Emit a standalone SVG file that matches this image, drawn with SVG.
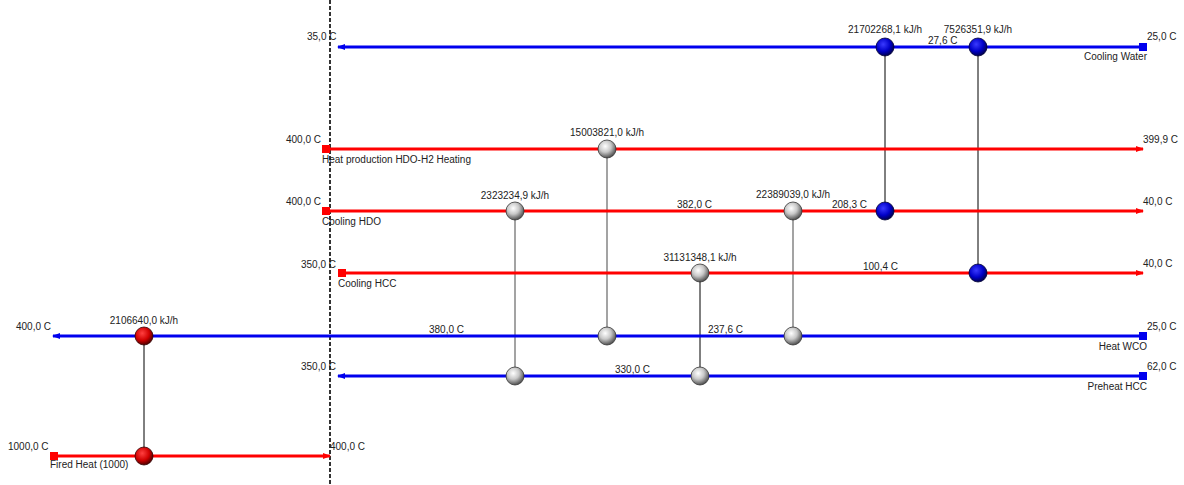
<svg xmlns="http://www.w3.org/2000/svg" width="1184" height="485" viewBox="0 0 1184 485">
<style>
text{font-family:"Liberation Sans",Arial,sans-serif;font-size:10px;fill:#222}
.r{text-anchor:end}
.m{text-anchor:middle}
.hot{stroke:#ff0000;stroke-width:3;fill:none}
.cold{stroke:#0000ee;stroke-width:3;fill:none}
.lk{stroke:#000;stroke-width:1}
.lg{stroke:#666;stroke-width:1.2}
.gb{fill:url(#gg);stroke:#333;stroke-width:0.8}
.bb{fill:url(#bg);stroke:#000033;stroke-width:0.8}
.rb{fill:url(#rg);stroke:#330000;stroke-width:0.8}
</style>
<defs>
<radialGradient id="gg" cx="0.4" cy="0.35" r="0.65"><stop offset="0" stop-color="#ffffff"/><stop offset="0.5" stop-color="#c8c8c8"/><stop offset="1" stop-color="#505050"/></radialGradient>
<radialGradient id="bg" cx="0.4" cy="0.35" r="0.65"><stop offset="0" stop-color="#3a3aff"/><stop offset="0.6" stop-color="#0000c8"/><stop offset="1" stop-color="#000050"/></radialGradient>
<radialGradient id="rg" cx="0.4" cy="0.35" r="0.65"><stop offset="0" stop-color="#ff4040"/><stop offset="0.6" stop-color="#d00000"/><stop offset="1" stop-color="#500000"/></radialGradient>
<marker id="ah" markerWidth="8" markerHeight="6" refX="7" refY="3" orient="auto" markerUnits="userSpaceOnUse"><path d="M0,0 L8,3 L0,6 z" fill="#ff0000"/></marker>
<marker id="ac" markerWidth="8" markerHeight="6" refX="7" refY="3" orient="auto" markerUnits="userSpaceOnUse"><path d="M0,0 L8,3 L0,6 z" fill="#0000ee"/></marker>
</defs>
<line x1="330" y1="0" x2="330" y2="485" stroke="#000" stroke-width="1.6" stroke-dasharray="4,2"/>
<g id="connectors">
<line class="lk" x1="144" y1="336" x2="144" y2="456"/>
<line class="lg" x1="515" y1="211" x2="515" y2="376"/>
<line class="lg" x1="607" y1="149" x2="607" y2="336"/>
<line class="lk" x1="700" y1="273" x2="700" y2="376"/>
<line class="lg" x1="793" y1="211" x2="793" y2="336"/>
<line class="lk" x1="885" y1="47" x2="885" y2="211"/>
<line class="lk" x1="978" y1="47" x2="978" y2="273"/>
</g>
<g id="stream-cooling-water">
<line class="cold" x1="1143" y1="47" x2="338" y2="47" stroke-width="2" marker-end="url(#ac)"/>
<rect x="1139" y="43" width="8" height="8" fill="#0000ee"/>
<text x="307" y="40">35,0 C</text>
<text x="1147" y="40">25,0 C</text>
<text class="r" x="1147" y="60">Cooling Water</text>
<text x="928" y="44">27,6 C</text>
</g>
<g id="stream-heat-production">
<line class="hot" x1="326" y1="149" x2="1143" y2="149" marker-end="url(#ah)"/>
<rect x="322" y="145" width="8" height="8" fill="#ff0000"/>
<text class="r" x="321" y="143">400,0 C</text>
<text x="1143" y="143">399,9 C</text>
<text x="322" y="163">Heat production HDO-H2 Heating</text>
</g>
<g id="stream-cooling-hdo">
<line class="hot" x1="326" y1="211" x2="1143" y2="211" marker-end="url(#ah)"/>
<rect x="322" y="207" width="8" height="8" fill="#ff0000"/>
<text class="r" x="321" y="205">400,0 C</text>
<text x="1143" y="205">40,0 C</text>
<text x="322" y="225">Cooling HDO</text>
<text x="677" y="208">382,0 C</text>
<text x="832" y="208">208,3 C</text>
</g>
<g id="stream-cooling-hcc">
<line class="hot" x1="342" y1="273" x2="1143" y2="273" marker-end="url(#ah)"/>
<rect x="338" y="269" width="8" height="8" fill="#ff0000"/>
<text x="301" y="268">350,0 C</text>
<text x="1143" y="267">40,0 C</text>
<text x="338" y="287">Cooling HCC</text>
<text x="863" y="270">100,4 C</text>
</g>
<g id="stream-heat-wco">
<line class="cold" x1="1143" y1="336" x2="53" y2="336" marker-end="url(#ac)"/>
<rect x="1139" y="332" width="8" height="8" fill="#0000ee"/>
<text x="16" y="330">400,0 C</text>
<text x="1147" y="330">25,0 C</text>
<text class="r" x="1147" y="350">Heat WCO</text>
<text x="429" y="333">380,0 C</text>
<text x="708" y="333">237,6 C</text>
</g>
<g id="stream-preheat-hcc">
<line class="cold" x1="1143" y1="376" x2="338" y2="376" marker-end="url(#ac)"/>
<rect x="1139" y="372" width="8" height="8" fill="#0000ee"/>
<text x="301" y="370">350,0 C</text>
<text x="1147" y="370">62,0 C</text>
<text class="r" x="1147" y="390">Preheat HCC</text>
<text x="615" y="373">330,0 C</text>
</g>
<g id="stream-fired-heat">
<line class="hot" x1="54" y1="456" x2="330" y2="456" stroke-width="1.5" marker-end="url(#ah)"/>
<rect x="50" y="452" width="8" height="8" fill="#ff0000"/>
<text x="8" y="450">1000,0 C</text>
<text x="330" y="450">400,0 C</text>
<text x="50" y="468">Fired Heat (1000)</text>
</g>
<g id="hx-fired">
<circle class="rb" cx="144" cy="336" r="9"/>
<circle class="rb" cx="144" cy="456" r="9"/>
<text class="m" x="144" y="324">2106640,0 kJ/h</text>
</g>
<g id="hx-2323234">
<circle class="gb" cx="515" cy="211" r="9"/>
<circle class="gb" cx="515" cy="376" r="9"/>
<text class="m" x="515" y="199">2323234,9 kJ/h</text>
</g>
<g id="hx-15003821">
<circle class="gb" cx="607" cy="149" r="9"/>
<circle class="gb" cx="607" cy="336" r="9"/>
<text class="m" x="607" y="136">15003821,0 kJ/h</text>
</g>
<g id="hx-31131348">
<circle class="gb" cx="700" cy="273" r="9"/>
<circle class="gb" cx="700" cy="376" r="9"/>
<text class="m" x="700" y="261">31131348,1 kJ/h</text>
</g>
<g id="hx-22389039">
<circle class="gb" cx="793" cy="211" r="9"/>
<circle class="gb" cx="793" cy="336" r="9"/>
<text class="m" x="793" y="198">22389039,0 kJ/h</text>
</g>
<g id="cooler-21702268">
<circle class="bb" cx="885" cy="47" r="9"/>
<circle class="bb" cx="885" cy="211" r="9"/>
<text class="m" x="885" y="33">21702268,1 kJ/h</text>
</g>
<g id="cooler-7526351">
<circle class="bb" cx="978" cy="47" r="9"/>
<circle class="bb" cx="978" cy="273" r="9"/>
<text class="m" x="978" y="33">7526351,9 kJ/h</text>
</g>
</svg>
